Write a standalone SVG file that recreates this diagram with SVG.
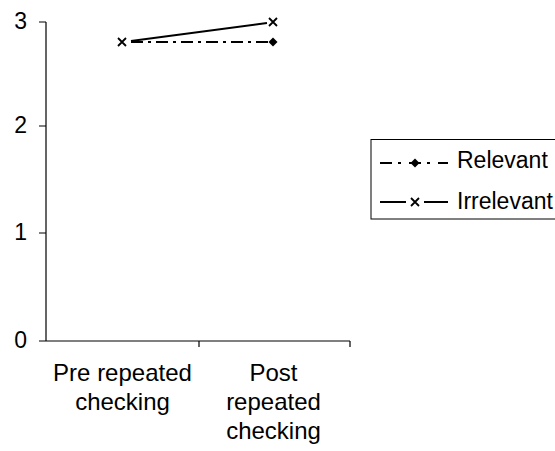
<svg xmlns="http://www.w3.org/2000/svg" width="555" height="451" viewBox="0 0 555 451">
<style>
text{font-family:"Liberation Sans",Arial,sans-serif;fill:#000}
.tick{font-size:23px;text-anchor:end}
.cat{font-size:24px;text-anchor:middle}
.leg{font-size:23px}
.ax{stroke:#000;stroke-width:1.2;fill:none}
.solid{stroke:#000;stroke-width:2;fill:none}
.dd{stroke:#000;stroke-width:2;fill:none;stroke-dasharray:12 5 3 5}
</style>
<defs>
<g id="xm"><path d="M-4,-4L4,4M-4,4L4,-4" stroke="#000" stroke-width="1.8" fill="none"/></g>
<g id="dm"><path d="M0,-4.5L4.5,0L0,4.5L-4.5,0Z" fill="#000"/></g>
</defs>
<rect width="555" height="451" fill="#fff"/>
<g id="axes">
<path class="ax" d="M46,22V341H350M39,22H46M39,126H46M39,233H46M39,341H46M199,341V347M350,341V347"/>
<text class="tick" x="27" y="29">3</text>
<text class="tick" x="27" y="133">2</text>
<text class="tick" x="27" y="240">1</text>
<text class="tick" x="27" y="348">0</text>
<text class="cat" x="122.5" y="381">Pre repeated</text>
<text class="cat" x="122.5" y="410">checking</text>
<text class="cat" x="273.5" y="381">Post</text>
<text class="cat" x="273.5" y="410">repeated</text>
<text class="cat" x="273.5" y="439">checking</text>
</g>
<g id="connectors">
<path class="dd" d="M131,42H268"/>
<path class="solid" d="M131,41L267,23"/>
</g>
<g id="relevant-series">
<use href="#dm" x="273" y="42"/>
</g>
<g id="irrelevant-series">
<use href="#xm" x="122" y="42"/>
<use href="#xm" x="273" y="22"/>
</g>
<g id="legend">
<rect x="371" y="139.5" width="200" height="79.5" fill="#fff" stroke="#000" stroke-width="1"/>
<path class="dd" d="M380,163H448" style="stroke-dasharray:12 6 3 8"/>
<use href="#dm" x="415" y="163"/>
<text class="leg" x="457" y="168">Relevant</text>
<path class="solid" d="M380,202H406M424,202H448"/>
<use href="#xm" x="415" y="202"/>
<text class="leg" x="457" y="209">Irrelevant</text>
</g>
</svg>
